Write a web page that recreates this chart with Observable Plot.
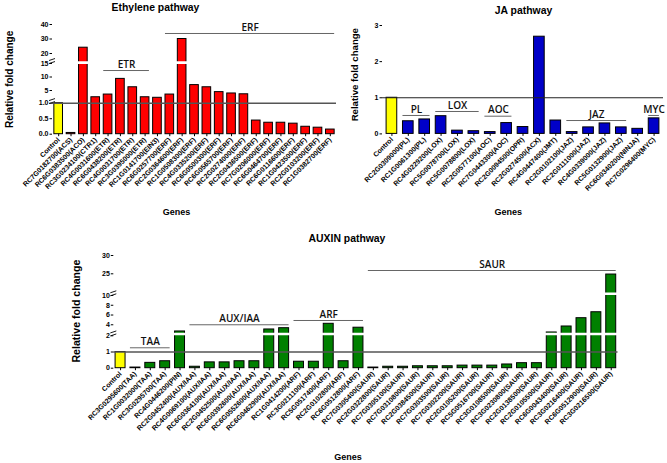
<!DOCTYPE html>
<html><head><meta charset="utf-8">
<script src="https://cdn.jsdelivr.net/npm/d3@7"></script>
<script src="https://cdn.jsdelivr.net/npm/@observablehq/plot@0.6"></script>
<style>
html,body{margin:0;padding:0;background:#fff;}
#wrap{position:relative;width:667px;height:463px;overflow:hidden;background:#fff;}
</style></head><body><div id="wrap"></div>
<script>
// ---------------- DATA ----------------
const ethGenes = ["Control","RC7G0182700(ACS)","RC6G0383500(ACO)","RC3G0234100(CTR1)","RC4G0031600(ETR)","RC6G0438200(ETR)","RC4G0031700(ETR)","RC3G0395000(ETR)","RC1G0141700(EIN3)","RC6G0257700(ERF)","RC2G0364600(ERF)","RC1G0508300(ERF)","RC4G0335200(ERF)","RC6G0500300(ERF)","RC6G0565700(ERF)","RC2G0274000(ERF)","RC2G0436500(ERF)","RC7G0206000(ERF)","RC6G0464700(ERF)","RC6G0116600(ERF)","RC1G0423500(ERF)","RC2G0103200(ERF)","RC1G0382700(ERF)"];
const ethValues = [1, 0.04, 24, 2.5, 3.5, 9.3, 6.2, 2.5, 2.3, 3.5, 30, 7.0, 6.2, 4.4, 3.9, 3.6, 0.44, 0.37, 0.37, 0.34, 0.24, 0.21, 0.15];
const ethTicks = [0, 0.5, 1, 5, 10, 15, 20, 30, 40];
const ethGroupLabels = ["ETR", "ERF"];
const ethGroupFrom = ["RC4G0031600(ETR)", "RC6G0257700(ERF)"];
const ethGroupTo = ["RC3G0395000(ETR)", "RC1G0382700(ERF)"];

const jaGenes = ["Control","RC2G0309000(PL)","RC1G0061300(PL)","RC4G0229200(LOX)","RC5G0078700(LOX)","RC5G0078800(LOX)","RC2G0577100(AOC)","RC7G0443300(AOC)","RC2G0094500(OPR)","RC2G0274500(ACX)","RC4G0447400(JMT)","RC2G0102100(JAZ)","RC2G0111000(JAZ)","RC4G0339000(JAZ)","RC5G0132900(JAZ)","RC6G0340200(NINJA)","RC7G0296400(MYC)"];
const jaValues = [1, 0.35, 0.40, 0.49, 0.09, 0.075, 0.05, 0.30, 0.19, 2.69, 0.37, 0.05, 0.18, 0.29, 0.18, 0.14, 0.43];
const jaTicks = [0, 1, 2, 3];
const jaGroupLabels = ["PL", "LOX", "AOC", "JAZ", "MYC"];
const jaGroupFrom = ["RC2G0309000(PL)", "RC4G0229200(LOX)", "RC2G0577100(AOC)", "RC2G0102100(JAZ)", "RC7G0296400(MYC)"];
const jaGroupTo = ["RC1G0061300(PL)", "RC5G0078800(LOX)", "RC7G0443300(AOC)", "RC5G0132900(JAZ)", "RC7G0296400(MYC)"];

const auxGenes = ["Control","RC3G0295600(TAA)","RC1G0032000(TAA)","RC3G0295700(TAA)","RC4G0446200(PIN)","RC2G0452400(AUX/IAA)","RC4G0069100(AUX/IAA)","RC6G0364100(AUX/IAA)","RC2G0452500(AUX/IAA)","RC6G0392600(AUX/IAA)","RC6G0552600(AUX/IAA)","RC6G0462900(AUX/IAA)","RC1G0414200(ARF)","RC3G0211100(ARF)","RC5G0517400(ARF)","RC2G0102800(ARF)","RC6G0512800(ARF)","RC7G0305400(SAUR)","RC2G0322800(SAUR)","RC7G0305100(SAUR)","RC7G0310800(SAUR)","RC2G0384500(SAUR)","RC7G0303500(SAUR)","RC7G0302200(SAUR)","RC2G0105200(SAUR)","RC5G0516700(SAUR)","RC3G0108500(SAUR)","RC3G0230800(SAUR)","RC2G0138500(SAUR)","RC2G0105500(SAUR)","RC6G0043400(SAUR)","RC3G0216400(SAUR)","RC6G0512900(SAUR)","RC3G0216500(SAUR)"];
const auxValues = [1, 0.04, 0.33, 0.43, 2.63, 0.09, 0.36, 0.36, 0.43, 0.43, 3.04, 3.3, 0.40, 0.40, 4.2, 0.43, 3.4, 0.04, 0.09, 0.09, 0.12, 0.12, 0.12, 0.16, 0.16, 0.16, 0.23, 0.31, 0.31, 2.45, 3.65, 5.35, 6.57, 24.8];
const auxTicks = [0, 1, 2, 4, 6, 8, 10, 25, 30];
const auxGroupLabels = ["TAA", "AUX/IAA", "ARF", "SAUR"];
const auxGroupFrom = ["RC3G0295600(TAA)", "RC2G0452400(AUX/IAA)", "RC1G0414200(ARF)", "RC7G0305400(SAUR)"];
const auxGroupTo = ["RC3G0295700(TAA)", "RC6G0462900(AUX/IAA)", "RC6G0512800(ARF)", "RC3G0216500(SAUR)"];

// ---------------- LAYOUT ----------------
const FONT = "'Liberation Sans', Arial, sans-serif";
const CONTROL_FILL = "#ffff00";

function makePanel(p) {
  const n = p.genes.length;
  const step = (p.width - p.ml - p.mr) / (n - p.pi + 2 * p.po);
  const idx = new Map(p.genes.map((g, i) => [g, i]));
  const rows = p.genes.map((gene, i) => ({gene, value: p.values[i]}));
  const ctrl = rows.filter(d => d.gene === "Control");
  const rest = rows.filter(d => d.gene !== "Control");
  const annots = p.groupLabels.map((label, k) => ({label, from: p.groupFrom[k], to: p.groupTo[k], y: p.groupY[k]}));
  const marks = [
    Plot.barY(ctrl, {x: "gene", y: "value", fill: CONTROL_FILL, stroke: "black", strokeWidth: 1}),
    Plot.barY(rest, {x: "gene", y: "value", fill: p.color, stroke: "black", strokeWidth: 1}),
    Plot.ruleY(p.barGaps, {stroke: "white", strokeWidth: 2.6}),
    Plot.ruleY([1], {stroke: p.refStroke, strokeWidth: p.refWidth}),
    Plot.axisY({ticks: p.ticks, tickFormat: p.tickFormat, tickSize: 2.5, tickPadding: 1.5, fontSize: 7, label: null, line: true}),
    Plot.axisX({tickRotate: -45, tickSize: 2.5, tickPadding: 2, fontSize: 7, label: null, line: true})
  ];
  for (const a of annots) {
    marks.push(Plot.ruleY([a], {y: "y", x1: "from", x2: "to", stroke: "#666", strokeWidth: 1}));
    marks.push(Plot.text([a], {x: "from", y: "y", text: "label",
      dx: (idx.get(a.to) - idx.get(a.from)) * step / 2, dy: p.annotDy,
      fontFamily: "'Open Sans', sans-serif", fontWeight: 600, fontSize: 10, fill: "#111",
      textAnchor: "middle", lineAnchor: "middle"}));
  }
  marks.push(Plot.text([p.title], {frameAnchor: "top-left", dx: p.titleDx, dy: p.titleDy,
    fontSize: 10.4, fontWeight: "bold", textAnchor: "middle", lineAnchor: "middle"}));
  marks.push(Plot.text(["Relative fold change"], {frameAnchor: "left", dx: p.ylabDx, dy: p.ylabDy, rotate: -90,
    fontSize: p.ylabSize, fontWeight: "bold", textAnchor: "middle", lineAnchor: "middle"}));
  marks.push(Plot.text(["Genes"], {frameAnchor: "bottom-left", dx: p.genesDx, dy: p.genesDy,
    fontSize: 9, fontWeight: "bold", textAnchor: "middle", lineAnchor: "middle"}));

  const svg = Plot.plot({
    width: p.width, height: p.height,
    marginLeft: p.ml, marginRight: p.mr, marginTop: p.mt, marginBottom: p.mb,
    style: {fontFamily: FONT, fontWeight: "bold", fontSize: "7px", overflow: "visible", background: "transparent"},
    x: {type: "band", domain: p.genes, paddingInner: p.pi, paddingOuter: p.po, align: 0.5, round: false},
    y: {type: "linear", domain: p.yDomain, range: p.yRange, round: false},
    marks
  });
  svg.style.position = "absolute";
  svg.style.left = p.left + "px";
  svg.style.top = p.top + "px";
  // axis break symbols
  const sy = d3.scaleLinear().domain(p.yDomain).range(p.yRange);
  const g = d3.select(svg).append("g");
  for (const b of p.axisBreaks) {
    const y = sy(b), x = p.ml;
    g.append("rect").attr("x", x - 1.5).attr("y", y - 1.5).attr("width", 3).attr("height", 3).attr("fill", "white");
    for (const s of [-1.5, 1.5]) {
      g.append("line").attr("x1", x - 3).attr("x2", x + 3).attr("y1", y + s + 1).attr("y2", y + s - 1)
        .attr("stroke", "black").attr("stroke-width", 0.9);
    }
  }
  document.getElementById("wrap").appendChild(svg);
}

makePanel({
  genes: ethGenes, values: ethValues, ticks: ethTicks,
  groupLabels: ethGroupLabels, groupFrom: ethGroupFrom, groupTo: ethGroupTo, groupY: [12.4, 33.8],
  tickFormat: d => d <= 1 ? d.toFixed(1) : String(d),
  color: "#ff0000", refStroke: "#555", refWidth: 1.6,
  left: 0, top: 0, width: 340, height: 230, ml: 52, mr: 4, mt: 24, mb: 96.3,
  pi: 0.3, po: 0.15,
  yDomain: [0, 1, 1.5, 15, 17, 40], yRange: [133.7, 102.7, 99.45, 63, 57.35, 24],
  barGaps: [15.3], axisBreaks: [1.25, 15.7],
  annotDy: -5.5,
  title: "Ethylene pathway", titleDx: 103, titleDy: -16.5,
  ylabDx: -43, ylabDy: 0, ylabSize: 10,
  genesDx: 124, genesDy: 78
});

makePanel({
  genes: jaGenes, values: jaValues, ticks: jaTicks,
  groupLabels: jaGroupLabels, groupFrom: jaGroupFrom, groupTo: jaGroupTo, groupY: [0.51, 0.62, 0.49, 0.37, 0.51],
  tickFormat: d => String(d),
  color: "#0000c8", refStroke: "#222", refWidth: 1.1,
  left: 330, top: 0, width: 337, height: 230, ml: 52, mr: 4, mt: 25, mb: 96.6,
  pi: 0.35, po: 0.25,
  yDomain: [0, 3], yRange: [133.4, 25],
  barGaps: [], axisBreaks: [],
  annotDy: -6,
  title: "JA pathway", titleDx: 141, titleDy: -15,
  ylabDx: -28, ylabDy: -5, ylabSize: 9.6,
  genesDx: 125.7, genesDy: 78.3
});

makePanel({
  genes: auxGenes, values: auxValues, ticks: auxTicks,
  groupLabels: auxGroupLabels, groupFrom: auxGroupFrom, groupTo: auxGroupTo, groupY: [1.26, 4.0, 4.88, 25.9],
  tickFormat: d => String(d),
  color: "#008000", refStroke: "#555", refWidth: 1.6,
  left: 0, top: 230, width: 667, height: 233, ml: 113.3, mr: 49.5, mt: 25, mb: 95.3,
  pi: 0.33, po: 0.12,
  yDomain: [0, 2, 2.5, 10, 20, 30], yRange: [137.7, 105.3, 101.6, 65, 61.6, 25],
  barGaps: [2.25, 15], axisBreaks: [2.25, 15],
  annotDy: -6,
  title: "AUXIN pathway", titleDx: 233.2, titleDy: -16.7,
  ylabDx: -37.3, ylabDy: -0.8, ylabSize: 10.6,
  genesDx: 234.2, genesDy: 89.3
});
</script></body></html>
